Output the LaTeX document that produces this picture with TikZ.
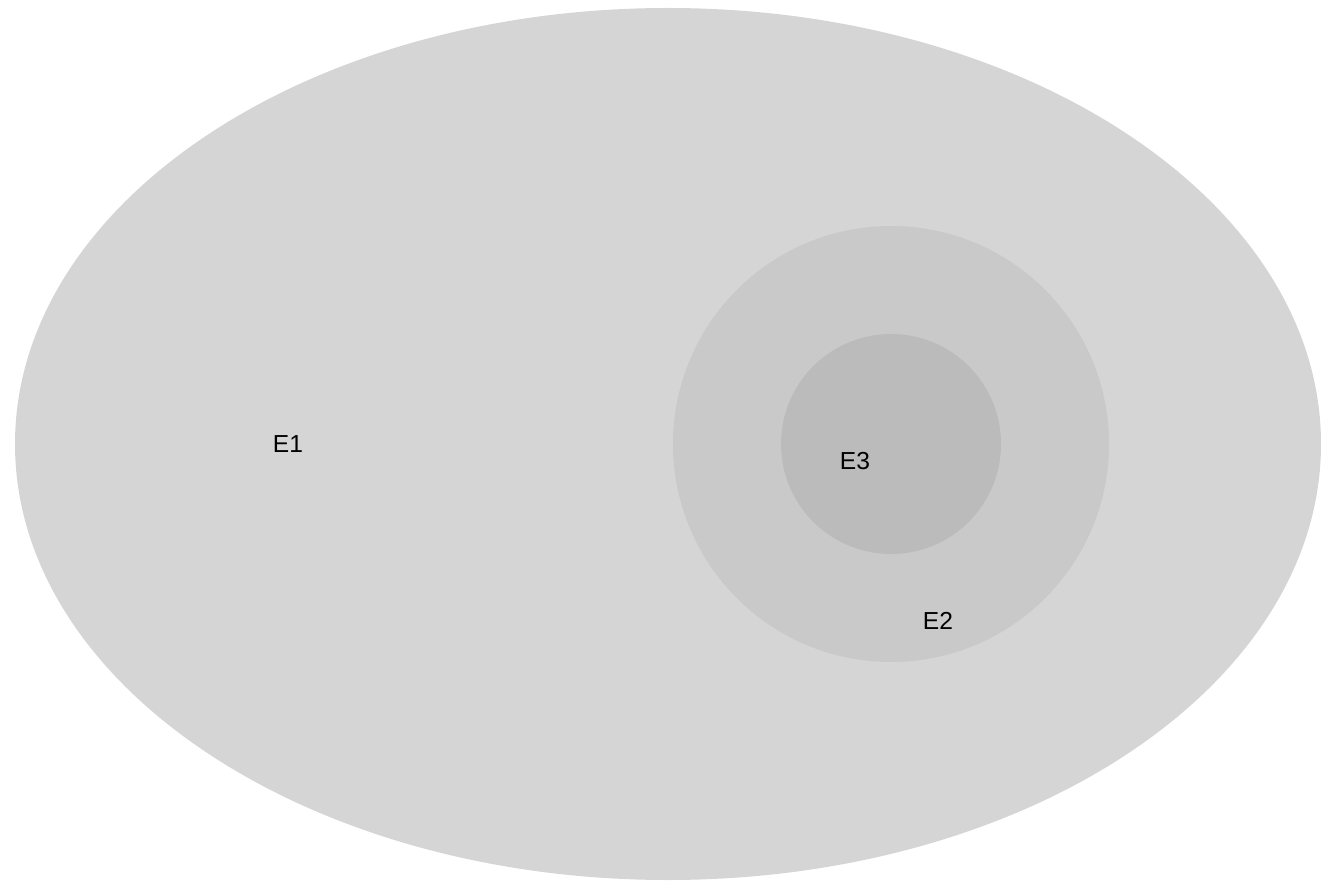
\documentclass[tikz,border=0pt]{standalone}
\usepackage{fontspec}
\setmainfont{Liberation Sans}
\usepackage{xcolor}
\definecolor{setA}{HTML}{D5D5D5}
\definecolor{setB}{HTML}{C9C9C9}
\definecolor{setC}{HTML}{BBBBBB}
\begin{document}
\begin{tikzpicture}[x=0.02cm,y=-0.02cm,font=\fontsize{14}{16}\selectfont]
  \tikzstyle{region}=[draw=none]
  \tikzstyle{lbl}=[inner sep=0pt,anchor=center]
  \useasboundingbox (0,0) rectangle (1321,881);
  % Sets
  \fill[region,setA] (668,444) ellipse [x radius=653,y radius=436];
  \fill[region,setB] (891,444) circle [radius=218];
  \fill[region,setC] (891,444) circle [radius=110];
  % Labels
  \node[lbl] (e1) at (288,444) {E1};
  \node[lbl] (e3) at (855,461) {E3};
  \node[lbl] (e2) at (938,621) {E2};
\end{tikzpicture}
\end{document}
